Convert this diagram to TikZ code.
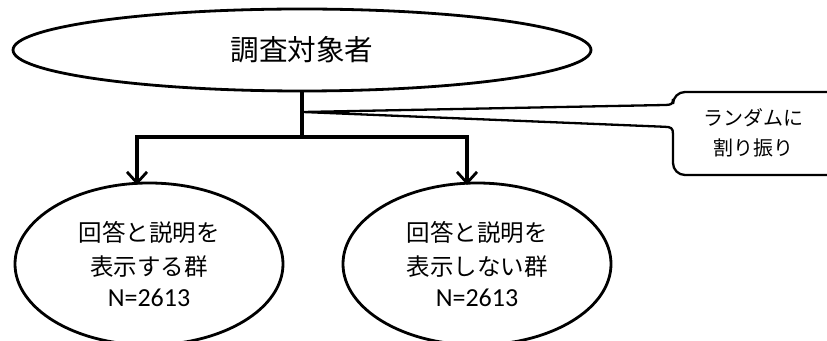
\documentclass[tikz,border=0pt]{standalone}
\usepackage{fontspec}
\setmainfont{Carlito}
\newfontfamily\jp{Noto Sans CJK JP}
\usetikzlibrary{shapes.geometric,arrows.meta}
\begin{document}
\begin{tikzpicture}[x=1pt,y=1pt,
  oval/.style={ellipse, draw, line width=2.8pt, inner sep=0pt, align=center},
  conn/.style={line width=3.2pt, line join=miter},
  arr/.style={conn, -{Straight Barb[length=11pt,width=20pt,line width=2.8pt]}},
  callbox/.style={line width=2.3pt, line join=miter},
  grouptext/.style={font=\fontsize{23.5}{34}\jp}
]
\useasboundingbox (0,0) rectangle (827,340);
\node[oval, minimum width=578pt, minimum height=82pt] (top) at (302,290) {\fontsize{28.6}{34}\jp 調査対象者};
\node[oval, minimum width=268pt, minimum height=162pt, grouptext] (gl) at (149,76) {回答と説明を\\表示する群\\[-3pt]{\fontsize{26}{30}\rmfamily N=2613}};
\node[oval, minimum width=268pt, minimum height=162pt, grouptext] (gr) at (477,76) {回答と説明を\\表示しない群\\[-3pt]{\fontsize{26}{30}\rmfamily N=2613}};
\coordinate (split) at (302,203);
\coordinate (la) at (137,155);
\coordinate (ra) at (467,155);
\coordinate (tip) at (303,228);
\draw[conn] (top.south) -- (split);
\draw[arr] (split) -| (la);
\draw[arr] (split) -| (ra);
\draw[callbox] (840,248) -- (685,248) arc[start angle=90,end angle=180,radius=12]
  -- (673,241) .. controls (673,236) and (671,235) .. (665,235) -- (tip)
  -- (665,213.2) .. controls (671,213) and (673,212) .. (673,206)
  -- (673,177) arc[start angle=180,end angle=270,radius=12] -- (840,165);
\node[align=center, font=\fontsize{20}{30}\jp] (note) at (753,207) {ランダムに\\割り振り};
\end{tikzpicture}
\end{document}
